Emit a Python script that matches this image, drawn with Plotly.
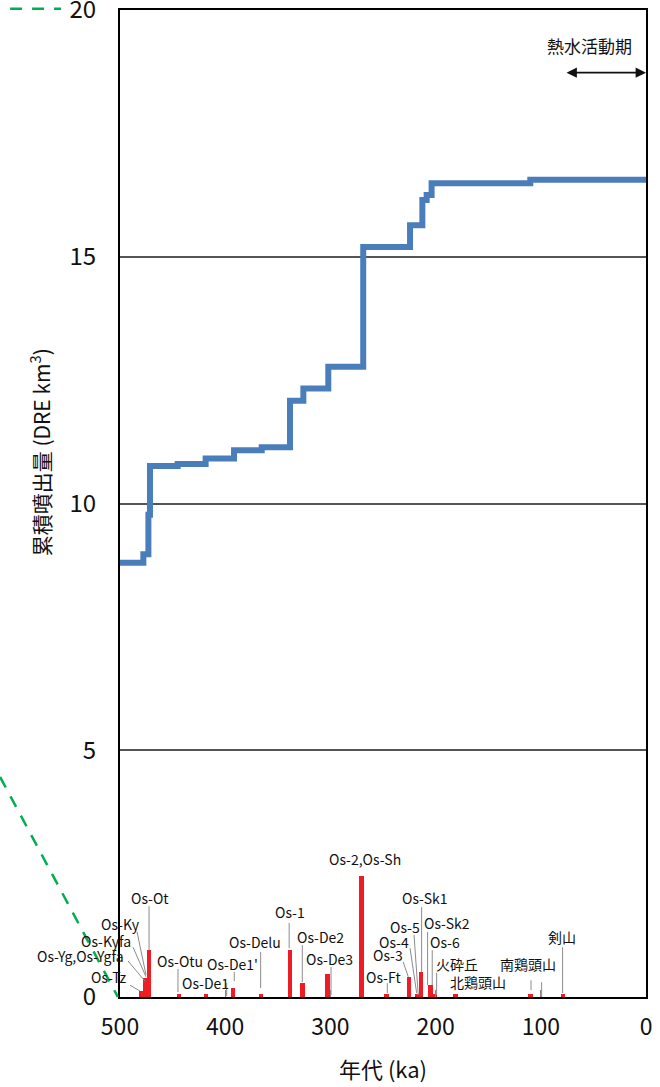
import plotly.graph_objects as go

# ---- data ----
step_age = [500, 477.8, 473.0, 471.5, 445.2, 418.6, 391.6, 365.3, 338.4, 325.7, 302.0,
            268.8, 224.3, 212.6, 208.5, 203.8, 110.0, 0]
step_cum = [8.80, 8.97, 9.77, 10.76, 10.80, 10.91, 11.08, 11.14, 12.08, 12.33, 12.77,
            15.20, 15.64, 16.15, 16.25, 16.49, 16.56, 16.56]

bar_age = [479.6, 476.2, 472.4, 443.9, 418.3, 392.6, 366.0, 338.4, 326.3, 302.8, 270.2,
           246.5, 225.3, 217.5, 213.9, 204.8, 200.6, 181.0, 109.9, 78.9]
bar_vol = [0.13, 0.38, 0.95, 0.07, 0.07, 0.19, 0.07, 0.95, 0.29, 0.46, 2.45,
           0.07, 0.41, 0.07, 0.51, 0.24, 0.07, 0.07, 0.07, 0.07]

# label text, text position (age, value), anchor, leader lines [(age0, v0, age1, v1), ...]
labels = [
    ("Os-Ot", 471.5, 2.01, "center", [(472.4, 1.84, 472.4, 0.95)]),
    ("Os-Ky", 479.1, 1.48, "right", [(483.8, 1.32, 475.3, 0.45)]),
    ("Os-Kyfa", 487.6, 1.13, "right", [(487.6, 1.01, 475.3, 0.41)]),
    ("Os-Yg,Os-Ygfa", 494.3, 0.83, "right", [(492.4, 0.73, 476.2, 0.32)]),
    ("Os-Tz", 492.4, 0.41, "right", [(490.5, 0.24, 481.0, 0.12)]),
    ("Os-Otu", 443.0, 0.73, "center", [(444.9, 0.57, 444.9, 0.10)]),
    ("Os-De1", 419.2, 0.28, "center", [(398.6, 0.28, 398.6, 0.02)]),
    ("Os-De1'", 393.5, 0.67, "center", [(391.4, 0.51, 391.4, 0.32)]),
    ("Os-Delu", 371.7, 1.11, "center", [(366.3, 0.91, 366.3, 0.18)]),
    ("Os-1", 338.4, 1.72, "center", [(339.2, 1.50, 339.2, 0.99)]),
    ("Os-De2", 309.4, 1.22, "center", [(326.7, 1.05, 326.7, 0.30)]),
    ("Os-De3", 301.3, 0.77, "center", [(299.4, 0.61, 299.4, 0.04)]),
    ("Os-2,Os-Sh", 267.1, 2.80, "center", []),
    ("Os-Ft", 249.0, 0.41, "center", [(245.9, 0.28, 245.9, 0.08)]),
    ("Os-3", 245.7, 0.85, "center", [(230.8, 0.71, 226.0, 0.41)]),
    ("Os-4", 239.5, 1.11, "center", [(224.3, 0.99, 218.0, 0.08)]),
    ("Os-5", 229.1, 1.42, "center", [(220.5, 1.26, 216.5, 0.04)]),
    ("Os-Sk1", 210.1, 2.01, "center", [(213.3, 1.82, 213.3, 0.51)]),
    ("Os-Sk2", 188.7, 1.50, "center", [(207.6, 1.32, 207.6, 0.24)]),
    ("Os-6", 191.1, 1.11, "center", [(203.2, 0.95, 203.2, 0.24)]),
    ("火砕丘", 180.0, 0.67, "center", [(199.0, 0.49, 199.0, 0.04)]),
    ("北鶏頭山", 159.3, 0.30, "center", []),
    ("南鶏頭山", 112.2, 0.67, "center", [(109.3, 0.34, 109.3, 0.14), (99.2, 0.30, 99.2, 0.0)]),
    ("剣山", 79.8, 1.22, "center", [(79.3, 1.01, 79.3, 0.08)]),
]

x_ticks = [500, 400, 300, 200, 100, 0]
y_ticks = [0, 5, 10, 15, 20]

JP = "Noto Sans CJK JP, sans-serif"

fig = go.Figure()

# leader lines
lx, ly = [], []
for _, _, _, _, leads in labels:
    for a0, v0, a1, v1 in leads:
        lx += [a0, a1, None]
        ly += [v0, v1, None]
fig.add_trace(go.Scatter(x=lx, y=ly, mode="lines", line=dict(color="#8c8c8c", width=1),
                         hoverinfo="skip", showlegend=False))

fig.add_trace(go.Bar(x=bar_age, y=bar_vol, width=4.3, marker=dict(color="#EE1C25", line=dict(width=0)),
                     showlegend=False))

fig.add_trace(go.Scatter(x=step_age, y=step_cum, mode="lines", line=dict(color="#4A7EBB", width=6, shape="hv"),
                         showlegend=False))

anns = []
for text, a, v, anc, _ in labels:
    anns.append(dict(x=a, y=v, xref="x", yref="y", text=text, showarrow=False, xanchor=anc,
                     font=dict(family=JP, size=14, color="#111")))

# hydrothermal period arrow
anns.append(dict(x=0, y=18.73, ax=77, ay=18.73, xref="x", yref="y", axref="x", ayref="y",
                 text="", showarrow=True, arrowhead=2, arrowside="end+start", arrowsize=1.3,
                 arrowwidth=1.6, arrowcolor="#111", standoff=0, startstandoff=0))
anns.append(dict(x=54, y=19.29, xref="x", yref="y", text="熱水活動期", showarrow=False,
                 font=dict(family=JP, size=17, color="#111")))

# y title
anns.append(dict(x=-0.152, y=0.552, xref="paper", yref="paper", xanchor="center", yanchor="middle",
                 text="累積噴出量 (DRE km<sup>3</sup>)", textangle=-90, showarrow=False,
                 font=dict(family=JP, size=21, color="#111")))

# green dashed extrapolation line (outside the plot area)
shapes = [
    dict(type="line", xref="paper", yref="paper", x0=-0.228, y0=0.223, x1=-0.004, y1=0.0,
         line=dict(color="#00B050", width=2.5, dash="12px,10px")),
    dict(type="line", xref="paper", yref="paper", x0=-0.209, y0=1.0013, x1=-0.112, y1=1.0013,
         line=dict(color="#00B050", width=2.5, dash="12px,10px")),
]

fig.update_layout(
    width=660, height=1087,
    margin=dict(l=120, r=14, t=10, b=90, autoexpand=False),
    paper_bgcolor="white", plot_bgcolor="white",
    bargap=0,
    annotations=anns, shapes=shapes,
    showlegend=False,
    xaxis=dict(range=[500, 0], tickvals=x_ticks, ticktext=[str(t) for t in x_ticks],
               ticks="inside", ticklen=7, tickcolor="#888", tickwidth=1,
               showline=True, linecolor="black", linewidth=2, mirror=True, automargin=False,
               showgrid=False, zeroline=False, ticklabelstandoff=8, ticklabeloverflow="allow",
               tickfont=dict(family=JP, size=23, color="#111"),
               title=dict(text="年代 (ka)", font=dict(family=JP, size=22, color="#111"), standoff=22)),
    yaxis=dict(range=[0, 20], tickvals=y_ticks, ticktext=[str(t) for t in y_ticks],
               ticks="", showline=True, linecolor="black", linewidth=2, mirror=True, automargin=False,
               showgrid=True, gridcolor="#555", gridwidth=1.5, zeroline=False,
               ticklabelstandoff=17, ticklabeloverflow="allow",
               tickfont=dict(family=JP, size=24, color="#111")),
)

fig.write_html("out.html", config={"displayModeBar": False},
               post_script="document.body.style.margin='0';")
